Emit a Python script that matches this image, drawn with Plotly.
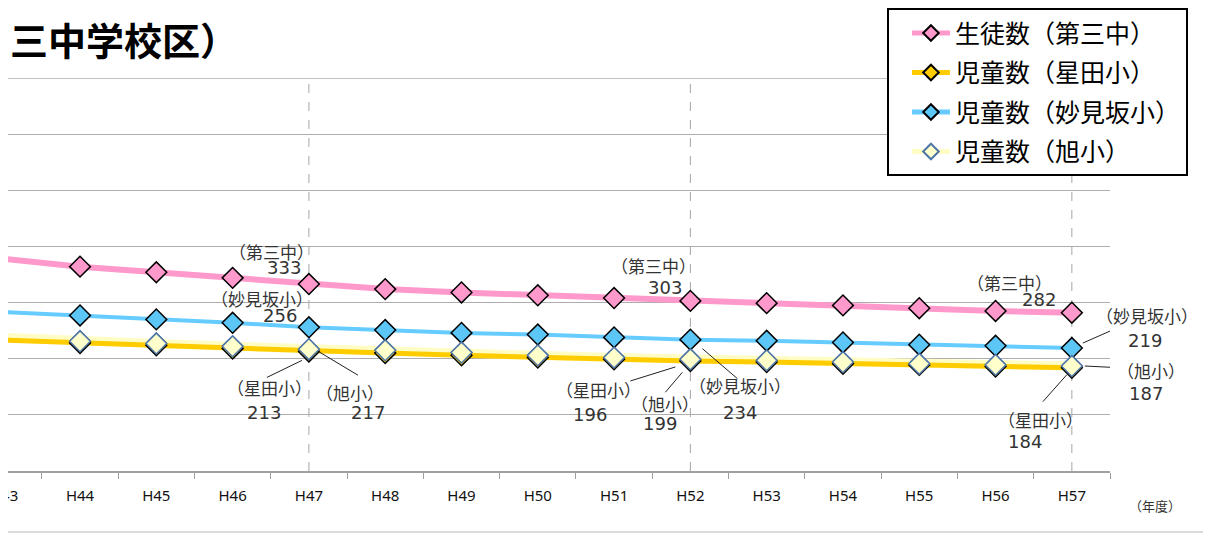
import plotly.graph_objects as go

# ---- data ----
categories = ['H43', 'H44', 'H45', 'H46', 'H47', 'H48', 'H49', 'H50',
              'H51', 'H52', 'H53', 'H54', 'H55', 'H56', 'H57']
series_names = ['生徒数（第三中）', '児童数（星田小）', '児童数（妙見坂小）', '児童数（旭小）']
short_names = ['（第三中）', '（星田小）', '（妙見坂小）', '（旭小）']
daisan = [378, 364, 354, 344, 333, 324, 318, 313, 308, 303, 299, 295, 290, 285, 282]
hoshida = [233, 228, 224, 218, 213, 210, 206, 202, 199, 196, 194, 191, 189, 186, 184]
myokenzaka = [283, 277, 270, 264, 256, 251, 246, 243, 238, 234, 232, 229, 225, 223, 219]
asahi = [238, 231, 227, 222, 217, 215, 211, 206, 202, 199, 197, 194, 191, 189, 187]
labeled_years = ['H47', 'H52', 'H57']
title_text = '三中学校区）'
x_unit = '（年度）'
y_max = 700
x_range = [0.056, 14.5]

values = [daisan, hoshida, myokenzaka, asahi]
line_colors = ['#FF99CC', '#FFCC00', '#66CCFF', '#FFFDC4']
marker_fill = ['#FF99CC', '#FFCC00', '#5CC6F7', '#FFFFCC']
marker_edge = ['#000000', '#000000', '#000000', '#4F76A8']
line_widths = [6, 5, 4, 9]

JP = 'Noto Sans CJK JP'


def make_trace(i, mode='lines+markers', showlegend=True):
    return go.Scatter(
        x=categories, y=values[i], name=series_names[i], mode=mode,
        legendgroup=str(i), legendrank=i + 1, showlegend=showlegend, cliponaxis=False,
        line=dict(color=line_colors[i], width=line_widths[i]),
        marker=dict(symbol='diamond', size=16, color=marker_fill[i],
                    line=dict(color=marker_edge[i], width=1.5)),
    )


fig = go.Figure()
# drawing order: 第三中, 旭小 (line), 星田小, 妙見坂小, 旭小 markers on top
fig.add_trace(make_trace(0))
fig.add_trace(make_trace(3))
fig.add_trace(make_trace(1))
fig.add_trace(make_trace(2))
fig.add_trace(make_trace(3, mode='markers', showlegend=False))

# label offsets (px) relative to each labelled point: (name dx, name dy, value dx, value dy)
label_offsets = {
    'H47': [(-37, 33, -25, 17), (-39, -36, -45, -61), (-47, 29, -29, 12), (41, -43, 59, -63)],
    'H52': [(-37, 35, -25, 13), (-92, -29, -100, -54), (50, -46, 50, -73), (-25, -44, -30, -64)],
    'H57': [(-62, 30, -33, 13), (-31, -52, -47, -74), (75, 33, 73, 8), (79, -4, 74, -27)],
}
# leader lines (px) relative to each labelled point, None where no line
leader = {
    'H47': [None, (-42, -26, -7, -9), None, (9, -2, 49, -26)],
    'H52': [None, (-60, -20, -15, -6), (12, -9, 47, -39), (-25, -33, -8, -13)],
    'H57': [None, (-29, -34, -5, -7), (11, 5, 45, 20), (13, 0, 53, -2)],
}

annotations = []
shapes = []
label_color = '#333333'
for yr in labeled_years:
    xi = categories.index(yr)
    for s in range(4):
        v = values[s][xi]
        ndx, ndy, vdx, vdy = label_offsets[yr][s]
        annotations.append(dict(x=xi, y=v, xref='x', yref='y', text=short_names[s],
                                showarrow=False, xshift=ndx, yshift=ndy,
                                font=dict(family=JP, size=17, color=label_color)))
        annotations.append(dict(x=xi, y=v, xref='x', yref='y', text=str(v),
                                showarrow=False, xshift=vdx, yshift=vdy,
                                font=dict(family='DejaVu Sans', size=18, color=label_color)))
        ld = leader[yr][s]
        if ld:
            shapes.append(dict(type='line', xref='x', yref='y', xsizemode='pixel', ysizemode='pixel',
                               xanchor=xi, yanchor=v, x0=ld[0], y0=ld[1], x1=ld[2], y1=ld[3],
                               line=dict(color='#222222', width=1), layer='above'))
    shapes.append(dict(type='line', xref='x', yref='y', x0=xi, x1=xi, y0=0, y1=y_max,
                       line=dict(color='#A6A6A6', width=1, dash='dash'), layer='below'))

# top gridline
shapes.append(dict(type='line', xref='paper', yref='y', x0=0, x1=1, y0=y_max, y1=y_max,
                   line=dict(color='#ADADAD', width=1.3), layer='below'))
# chart border (right and bottom)
shapes.append(dict(type='line', xref='paper', yref='paper', x0=-0.01, x1=1.0871, y0=-0.155, y1=-0.155,
                   line=dict(color='#CFCFCF', width=1.5)))
shapes.append(dict(type='line', xref='paper', yref='paper', x0=1.0871, x1=1.0871, y0=-0.155, y1=1.19,
                   line=dict(color='#CFCFCF', width=1.5)))

# first category label sits at the clipped left edge of the plot
first_cat_paper = (0 - x_range[0]) / (x_range[1] - x_range[0])
annotations.append(dict(x=first_cat_paper, y=-0.06, xref='paper', yref='paper', xanchor='center',
                        yanchor='middle', text=categories[0], showarrow=False,
                        font=dict(family='Noto Sans', size=15, color='#111111')))
annotations.append(dict(x=0, y=1.1, xref='paper', yref='paper', xanchor='left', yanchor='middle',
                        text=title_text, showarrow=False,
                        font=dict(family=JP, size=38, color='#000000', weight='bold')))
annotations.append(dict(x=1.0408, y=-0.0875, xref='paper', yref='paper', xanchor='center',
                        yanchor='middle', text=x_unit, showarrow=False,
                        font=dict(family=JP, size=13, color='#333333')))

fig.update_layout(
    width=1203, height=530,
    margin=dict(l=0, r=101, t=63, b=67),
    paper_bgcolor='white', plot_bgcolor='white',
    showlegend=True,
    legend=dict(x=0.7976, y=1.1775, xanchor='left', yanchor='top',
                bgcolor='white', bordercolor='black', borderwidth=2,
                font=dict(family=JP, size=25, color='#000000'),
                traceorder='grouped', tracegroupgap=4, itemsizing='constant',
                itemwidth=38, indentation=18),
    annotations=annotations, shapes=shapes,
    xaxis=dict(type='category', range=x_range, tickson='boundaries',
               showgrid=False, showline=True, linecolor='#A0A0A0', linewidth=1.5,
               ticks='outside', ticklen=6, tickcolor='#A0A0A0', tickwidth=1.2,
               ticklabelstandoff=10,
               tickfont=dict(family='Noto Sans', size=15, color='#111111')),
    yaxis=dict(range=[0, y_max], dtick=100, showticklabels=False, showgrid=True,
               gridcolor='#ADADAD', gridwidth=1.3, zeroline=False, showline=False),
)

fig.write_html('out.html')
